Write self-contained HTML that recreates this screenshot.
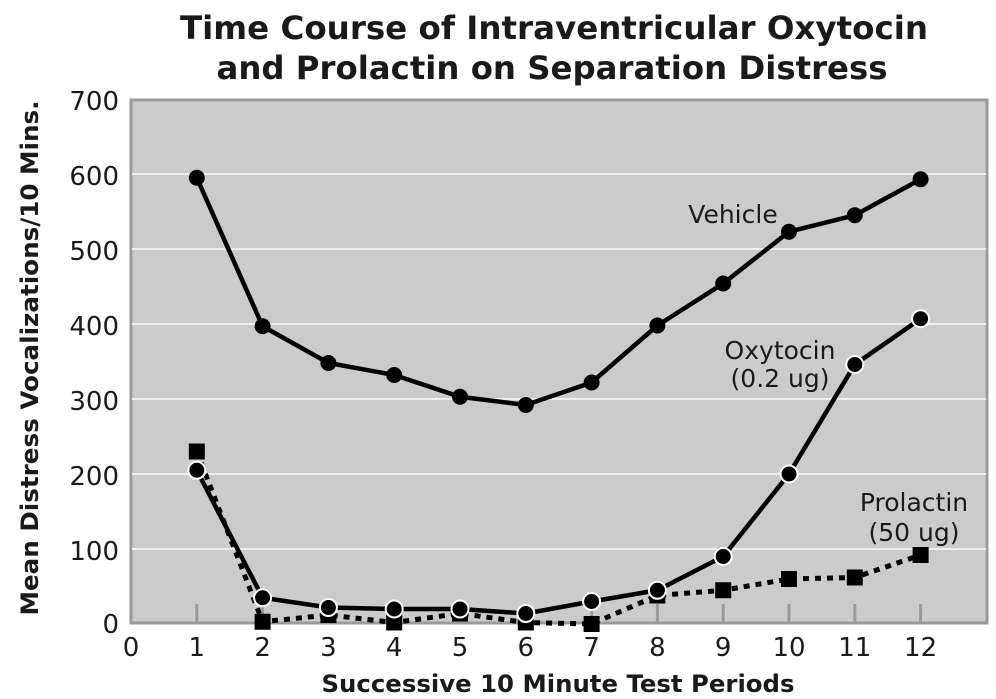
<!DOCTYPE html>
<html><head><meta charset="utf-8"><style>
html,body{margin:0;padding:0;background:#fff;}
svg{display:block;}
text{font-family:"DejaVu Sans","Liberation Sans",sans-serif;fill:#1a1a1a;}
</style></head><body>
<svg width="996" height="699" viewBox="0 0 996 699" xmlns="http://www.w3.org/2000/svg">
<text x="554" y="39" text-anchor="middle" font-size="32" font-weight="bold" textLength="748" lengthAdjust="spacingAndGlyphs">Time Course of Intraventricular Oxytocin</text>
<text x="552" y="79" text-anchor="middle" font-size="32" font-weight="bold" textLength="671" lengthAdjust="spacingAndGlyphs">and Prolactin on Separation Distress</text>
<rect x="131" y="100" width="856" height="523" fill="#cbcbcb" stroke="#9a9a9a" stroke-width="3"/>
<g stroke="#eeeeee" stroke-width="2">
<line x1="132" x2="986" y1="174" y2="174"/><line x1="132" x2="986" y1="249" y2="249"/>
<line x1="132" x2="986" y1="324" y2="324"/><line x1="132" x2="986" y1="399" y2="399"/>
<line x1="132" x2="986" y1="474" y2="474"/><line x1="132" x2="986" y1="549" y2="549"/>
</g>
<g stroke="#999" stroke-width="3">
<line x1="196.8" x2="196.8" y1="604" y2="622"/><line x1="262.6" x2="262.6" y1="604" y2="622"/>
<line x1="328.4" x2="328.4" y1="604" y2="622"/><line x1="394.2" x2="394.2" y1="604" y2="622"/>
<line x1="460" x2="460" y1="604" y2="622"/><line x1="525.8" x2="525.8" y1="604" y2="622"/>
<line x1="591.6" x2="591.6" y1="604" y2="622"/><line x1="657.4" x2="657.4" y1="604" y2="622"/>
<line x1="723.2" x2="723.2" y1="604" y2="622"/><line x1="789" x2="789" y1="604" y2="622"/>
<line x1="854.8" x2="854.8" y1="604" y2="622"/><line x1="920.6" x2="920.6" y1="604" y2="622"/>
</g>
<g font-size="26" text-anchor="end">
<text x="119" y="110">700</text><text x="119" y="185">600</text><text x="119" y="260">500</text>
<text x="119" y="335">400</text><text x="119" y="410">300</text><text x="119" y="485">200</text>
<text x="119" y="560">100</text><text x="119" y="633">0</text>
</g>
<g font-size="26" text-anchor="middle">
<text x="131" y="656">0</text><text x="196.8" y="656">1</text><text x="262.6" y="656">2</text>
<text x="328.4" y="656">3</text><text x="394.2" y="656">4</text><text x="460" y="656">5</text>
<text x="525.8" y="656">6</text><text x="591.6" y="656">7</text><text x="657.4" y="656">8</text>
<text x="723.2" y="656">9</text><text x="789" y="656">10</text><text x="854.8" y="656">11</text>
<text x="920.6" y="656">12</text>
</g>
<text x="558" y="692" text-anchor="middle" font-size="24" font-weight="bold" textLength="473" lengthAdjust="spacingAndGlyphs">Successive 10 Minute Test Periods</text>
<text transform="translate(38,358) rotate(-90)" text-anchor="middle" font-size="24" font-weight="bold" textLength="515" lengthAdjust="spacingAndGlyphs">Mean Distress Vocalizations/10 Mins.</text>
<polyline fill="none" stroke="#000" stroke-width="5" stroke-dasharray="6,6" points="196.8,451.5 262.6,621.75 328.4,615 394.2,622.5 460,613.5 525.8,622.5 591.6,624 657.4,595.5 723.2,590.25 789,579 854.8,577.5 920.6,555"/>
<polyline fill="none" stroke="#000" stroke-width="4.5" points="196.8,470.25 262.6,597.75 328.4,607.5 394.2,609 460,609 525.8,613.5 591.6,601.5 657.4,590.25 723.2,556.5 789,474 854.8,364.5 920.6,318.75"/>
<g fill="#000">
<rect x="188.8" y="443.5" width="16" height="16"/><rect x="254.6" y="613.75" width="16" height="16"/>
<rect x="320.4" y="607" width="16" height="16"/><rect x="386.2" y="614.5" width="16" height="16"/>
<rect x="452" y="605.5" width="16" height="16"/><rect x="517.8" y="614.5" width="16" height="16"/>
<rect x="583.6" y="616" width="16" height="16"/><rect x="649.4" y="587.5" width="16" height="16"/>
<rect x="715.2" y="582.25" width="16" height="16"/><rect x="781" y="571" width="16" height="16"/>
<rect x="846.8" y="569.5" width="16" height="16"/><rect x="912.6" y="547" width="16" height="16"/>
</g>
<g fill="#000" stroke="#fff" stroke-width="2">
<circle cx="196.8" cy="470.25" r="8.5"/><circle cx="262.6" cy="597.75" r="8.5"/>
<circle cx="328.4" cy="607.5" r="8.5"/><circle cx="394.2" cy="609" r="8.5"/>
<circle cx="460" cy="609" r="8.5"/><circle cx="525.8" cy="613.5" r="8.5"/>
<circle cx="591.6" cy="601.5" r="8.5"/><circle cx="657.4" cy="590.25" r="8.5"/>
<circle cx="723.2" cy="556.5" r="8.5"/><circle cx="789" cy="474" r="8.5"/>
<circle cx="854.8" cy="364.5" r="8.5"/><circle cx="920.6" cy="318.75" r="8.5"/>
</g>
<polyline fill="none" stroke="#000" stroke-width="4.5" points="196.8,177.75 262.6,326.25 328.4,363 394.2,375 460,396.75 525.8,405 591.6,382.5 657.4,325.5 723.2,283.5 789,231.75 854.8,215.25 920.6,179.25"/>
<g fill="#000">
<circle cx="196.8" cy="177.75" r="8"/><circle cx="262.6" cy="326.25" r="8"/>
<circle cx="328.4" cy="363" r="8"/><circle cx="394.2" cy="375" r="8"/>
<circle cx="460" cy="396.75" r="8"/><circle cx="525.8" cy="405" r="8"/>
<circle cx="591.6" cy="382.5" r="8"/><circle cx="657.4" cy="325.5" r="8"/>
<circle cx="723.2" cy="283.5" r="8"/><circle cx="789" cy="231.75" r="8"/>
<circle cx="854.8" cy="215.25" r="8"/><circle cx="920.6" cy="179.25" r="8"/>
</g>
<g font-size="25" text-anchor="middle" style="fill:#222">
<text x="733" y="223">Vehicle</text>
<text x="780" y="359">Oxytocin</text>
<text x="780" y="387">(0.2 ug)</text>
<text x="914" y="511">Prolactin</text>
<text x="914" y="541">(50 ug)</text>
</g>
</svg>
</body></html>
